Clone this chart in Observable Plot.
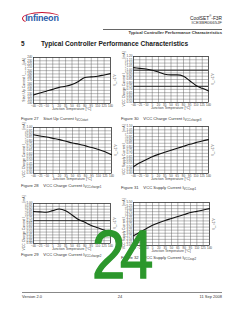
<!DOCTYPE html>
<html><head><meta charset="utf-8">
<script src="https://cdn.jsdelivr.net/npm/d3@7"></script>
<script src="https://cdn.jsdelivr.net/npm/@observablehq/plot@0.6"></script>
<style>
html,body{margin:0;padding:0;background:#fff;}
body{width:240px;height:310px;overflow:hidden;position:relative;font-family:"Liberation Sans",Arial,sans-serif;color:#222;}
.abs{position:absolute;white-space:nowrap;}
.cap{font-size:4.2px;color:#333;}
.ax{font-size:3.4px;color:#444;}
.yl{font-size:3.4px;color:#444;transform-origin:0 0;}
.plot{position:absolute;}
sub{font-size:70%;vertical-align:-1px;}
</style></head><body>
<script>
// ---- data ----
const temps = [-40,-25,-10,5,20,35,50,65,80,95,110,125,140];
const xTicks = [-40,-25,-10,5,20,35,50,65,80,95,110,125,140];

const startUp  = [126,132,137.5,143,149,152.5,158,167,179,181,183,187,191];
const charge1  = [0.89,0.87,0.855,0.835,0.815,0.79,0.765,0.745,0.72,0.695,0.665,0.63,0.587];
const charge2  = [0.86,0.853,0.846,0.875,0.905,0.875,0.80,0.72,0.67,0.615,0.575,0.535,0.49];
const charge3  = [1.03,1.02,1.01,0.99,0.965,0.93,0.92,0.92,0.90,0.83,0.76,0.715,0.675];
const supply1  = [0.50,0.56,0.605,0.65,0.685,0.715,0.745,0.775,0.805,0.835,0.86,0.885,0.905];
const supply2  = [2.79,3.08,3.37,3.64,3.86,4.04,4.20,4.36,4.52,4.68,4.78,4.89,5.0];

const ticksStart   = [100,110,120,130,140,150,160,170,180,190,200,210,220,230,240];
const ticksCharge3 = [0.50,0.55,0.60,0.65,0.70,0.75,0.80,0.85,0.90,0.95,1.00,1.05,1.10,1.15,1.20];
const ticksCharge1 = [0.30,0.35,0.40,0.45,0.50,0.55,0.60,0.65,0.70,0.75,0.80,0.85,0.90,0.95,1.00];
const ticksSupply1 = [0.40,0.45,0.50,0.55,0.60,0.65,0.70,0.75,0.80,0.85,0.90,0.95,1.00,1.05,1.10];
const ticksCharge2 = [0.30,0.35,0.40,0.45,0.50,0.55,0.60,0.65,0.70,0.75,0.80,0.85,0.90,0.95,1.00];
const ticksSupply2 = [2.00,2.25,2.50,2.75,3.00,3.25,3.50,3.75,4.00,4.25,4.50,4.75,5.00,5.25,5.50];

const boldCharge3 = [0.99,0.745];
const boldCharge2 = [0.70];

const figNums = ["Figure 27","Figure 30","Figure 28","Figure 31","Figure 29","Figure 32"];
const figTitles = ["Start Up Current I<sub>VCCstart</sub>","VCC Charge Current I<sub>VCCcharge3</sub>","VCC Charge Current I<sub>VCCcharge1</sub>","VCC Supply Current I<sub>VCCsup1</sub>","VCC Charge Current I<sub>VCCcharge2</sub>","VCC Supply Current I<sub>VCCsup2</sub>"];
const yLabels = ["Start Up Current I<sub>VCCstart</sub> [µA]","VCC Charge Current I<sub>VCCcharge3</sub> [mA]","VCC Charge Current I<sub>VCCcharge1</sub> [mA]","VCC Supply Current I<sub>VCCsup1</sub> [mA]","VCC Charge Current I<sub>VCCcharge2</sub> [mA]","VCC Supply Current I<sub>VCCsup2</sub> [mA]"];
const xLabel = "Junction Temperature [°C]";

// ---- layout ----
const body = document.body;
function add(html, cls, css){const d=document.createElement("div");d.className="abs "+(cls||"");d.innerHTML=html;Object.assign(d.style,css);body.appendChild(d);return d;}

// header
add("Infineon","",{left:"22px",top:"12px",width:"38px",height:"11px",border:"1.3px solid #c8102e",borderRadius:"50%",borderRightColor:"transparent",borderBottomColor:"transparent",fontSize:"9px",color:"#2a5aa8",fontWeight:"bold",lineHeight:"11px",textAlign:"center",letterSpacing:"-0.2px"});
add("CoolSET<sup style='font-size:60%'>®</sup>-F3R","",{right:"18px",top:"14px",fontSize:"4.8px",color:"#222"});
add("ICE3BR0665JF","",{right:"18px",top:"19.5px",fontSize:"4.4px",color:"#333"});
add("","",{left:"103px",top:"29px",width:"119px",height:"0.6px",background:"#666"});
add("Typical Controller Performance Characteristics","",{right:"18px",top:"30px",fontSize:"4.2px",color:"#333",fontWeight:"bold"});
add("5","",{left:"21px",top:"39.5px",fontSize:"6.4px",fontWeight:"bold"});
add("Typical Controller Performance Characteristics","",{left:"41px",top:"39.5px",fontSize:"6.6px",fontWeight:"bold"});

// charts
const charts = [
  {vals:startUp, ticks:ticksStart, bold:[], fmt:d3.format("d"), fx:33, fy:57, fw:77, fh:46, capX:21, capY:116},
  {vals:charge3, ticks:ticksCharge3, bold:boldCharge3, fmt:d3.format(".2f"), fx:133, fy:56, fw:75, fh:46, capX:121, capY:116},
  {vals:charge1, ticks:ticksCharge1, bold:[], fmt:d3.format(".2f"), fx:33, fy:127, fw:78, fh:46, capX:21, capY:183},
  {vals:supply1, ticks:ticksSupply1, bold:[], fmt:d3.format(".2f"), fx:133, fy:126, fw:75, fh:47, capX:121, capY:185},
  {vals:charge2, ticks:ticksCharge2, bold:boldCharge2, fmt:d3.format(".2f"), fx:33, fy:203, fw:77, fh:40, capX:21, capY:252},
  {vals:supply2, ticks:ticksSupply2, bold:[], fmt:d3.format(".2f"), fx:133, fy:202, fw:76, fh:43, capX:121, capY:255}
];
const mL=12,mR=2,mT=2,mB=5;
charts.forEach((c,i)=>{
  const data = temps.map((t,k)=>({t, v:c.vals[k]}));
  const p = Plot.plot({
    width:c.fw+mL+mR, height:c.fh+mT+mB, marginLeft:mL, marginRight:mR, marginTop:mT, marginBottom:mB,
    x:{domain:[-40,140]}, y:{domain:[c.ticks[0], c.ticks[c.ticks.length-1]]},
    style:{fontSize:"3px", fontFamily:"Liberation Sans, Arial, sans-serif", color:"#444", background:"transparent", overflow:"visible"},
    marks:[
      Plot.gridX(xTicks,{stroke:"#555", strokeOpacity:0.85, strokeWidth:0.5}),
      Plot.gridY(c.ticks,{stroke:"#555", strokeOpacity:0.85, strokeWidth:0.5}),
      Plot.ruleY(c.bold,{stroke:"#222", strokeWidth:0.9}),
      Plot.frame({stroke:"#333", strokeWidth:0.7}),
      Plot.axisX(xTicks,{label:null, tickSize:0, tickPadding:1.2, fontSize:3}),
      Plot.axisY(c.ticks,{label:null, tickSize:0, tickPadding:1.2, fontSize:3, tickFormat:c.fmt}),
      Plot.line(data,{x:"t", y:"v", stroke:"#111", strokeWidth:1.1, curve:"monotone-x"})
    ]
  });
  p.classList.add("plot");
  p.style.left=(c.fx-mL)+"px"; p.style.top=(c.fy-mT)+"px";
  body.appendChild(p);
  add(xLabel,"ax",{left:(c.fx+c.fw/2)+"px",top:(c.fy+c.fh+3.5)+"px",transform:"translateX(-50%)"});
  add(yLabels[i],"yl",{left:(c.fx-11)+"px",top:(c.fy+c.fh/2)+"px",transform:"rotate(-90deg) translateX(-50%)"});
  add("V<sub>CC</sub>=17V","yl",{left:(c.fx+c.fw+3)+"px",top:(c.fy+c.fh/2)+"px",transform:"rotate(-90deg) translateX(-50%)",fontSize:"2.8px"});
  add(figNums[i]+"&nbsp;&nbsp;&nbsp;&nbsp;"+figTitles[i],"cap",{left:c.capX+"px",top:c.capY+"px"});
});

// footer
add("","",{left:"22px",top:"292px",width:"200px",height:"0.6px",background:"#888"});
add("Version 2.0","",{left:"22px",top:"293.5px",fontSize:"4px",color:"#333"});
add("24","",{left:"120px",top:"293.5px",fontSize:"4px",color:"#333",transform:"translateX(-50%)"});
add("11 Sep 2008","",{right:"18px",top:"293.5px",fontSize:"4px",color:"#333"});

// big page-number overlay
add("24","",{left:"120px",top:"220px",fontSize:"68px",lineHeight:"68px",color:"#2c972c",letterSpacing:"-6px",WebkitTextStroke:"1.4px #2c972c",transform:"translateX(-50%) scaleX(0.88)",transformOrigin:"50% 0"});
</script>
</body></html>
